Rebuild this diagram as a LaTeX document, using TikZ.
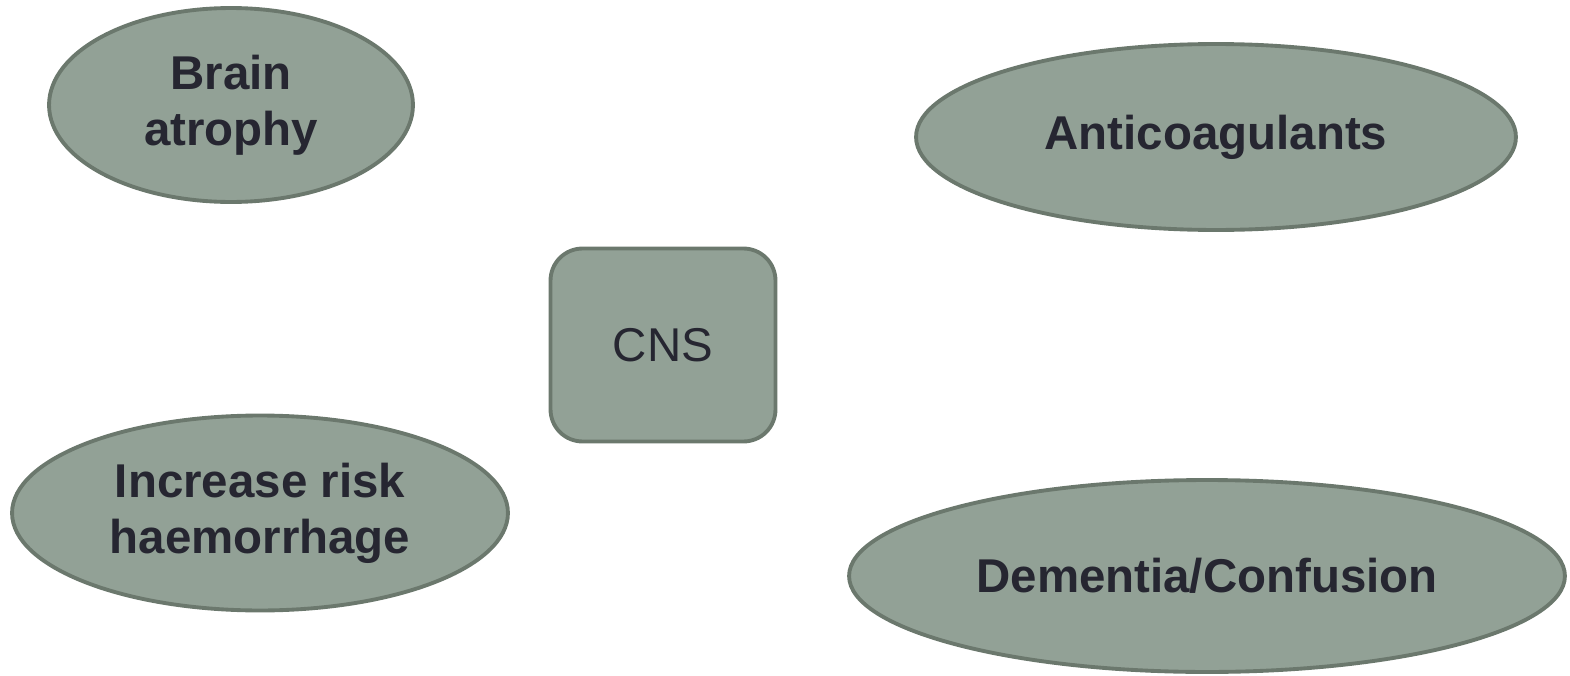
\documentclass[tikz,border=0pt]{standalone}
\usepackage{fontspec}
\setmainfont{Liberation Sans}
\usepackage{tikz}
\usetikzlibrary{shapes.geometric}

\definecolor{bubblefill}{HTML}{92A196}
\definecolor{bubbleline}{HTML}{6B786D}
\definecolor{bubbletext}{HTML}{262631}

\tikzset{
    bubble/.style={ellipse, draw=bubbleline, fill=bubblefill, line width=2.2pt,
        inner sep=0pt, text=bubbletext, align=center,
        font=\fontsize{27}{32}\selectfont\bfseries},
    hub/.style={rectangle, rounded corners=0.64cm, draw=bubbleline, fill=bubblefill,
        line width=2.2pt, inner sep=0pt, text=bubbletext,
        minimum width=4.5cm, minimum height=3.86cm,
        font=\fontsize{27}{32}\selectfont}
}

\begin{document}
\begin{tikzpicture}[x=0.02cm, y=-0.02cm]
    \useasboundingbox (0,0) rectangle (1570,676);
    \node[hub] (cns) at (663,345) {CNS};
    \node[bubble, minimum width=7.28cm, minimum height=3.88cm] (atrophy) at (231,105) {Brain\\atrophy};
    \node[bubble, minimum width=12cm, minimum height=3.72cm] (anticoag) at (1216,137) {Anticoagulants};
    \node[bubble, minimum width=9.92cm, minimum height=3.9cm] (haemorrhage) at (260,513) {Increase risk\\haemorrhage};
    \node[bubble, minimum width=14.32cm, minimum height=3.84cm] (dementia) at (1207,576) {Dementia/Confusion};
\end{tikzpicture}
\end{document}
